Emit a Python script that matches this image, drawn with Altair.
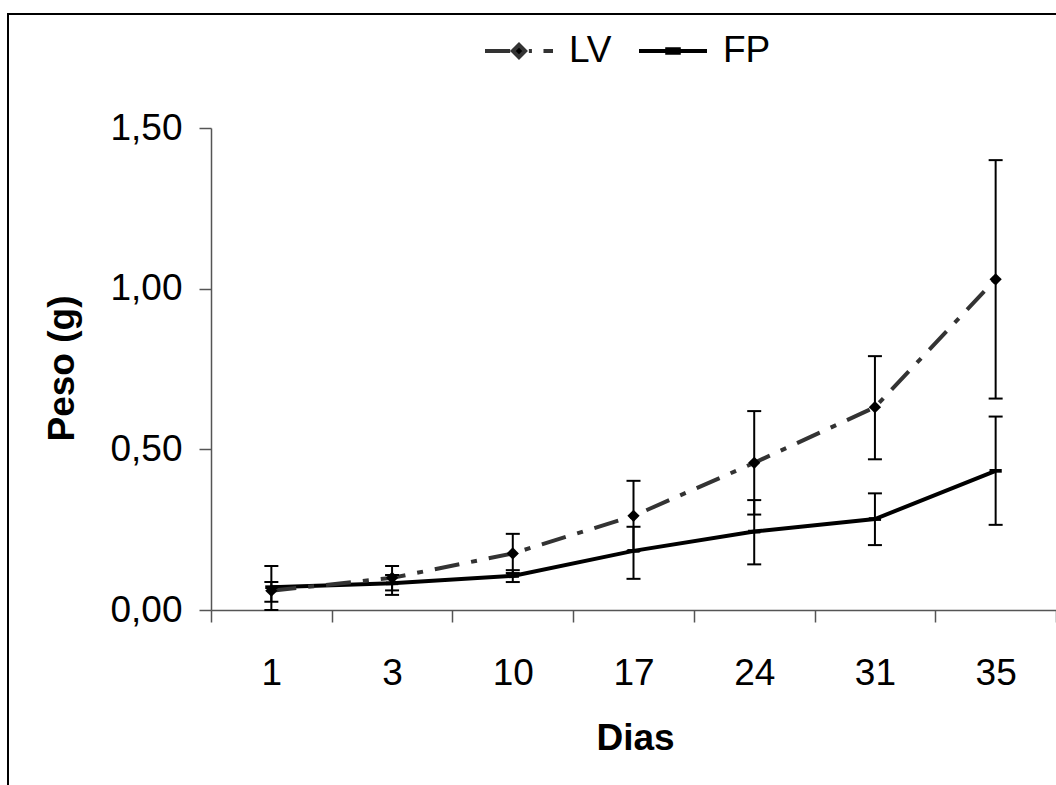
import altair as alt
import pandas as pd

days = ["1", "3", "10", "17", "24", "31", "35"]
series_names = ["LV", "FP"]

lv_mean = [0.06, 0.10, 0.176, 0.293, 0.458, 0.631, 1.029]
lv_low = [0.00, 0.061, 0.115, 0.184, 0.297, 0.469, 0.658]
lv_high = [0.137, 0.137, 0.237, 0.402, 0.619, 0.790, 1.400]

fp_mean = [0.071, 0.083, 0.106, 0.184, 0.244, 0.283, 0.433]
fp_low = [0.026, 0.047, 0.087, 0.097, 0.142, 0.202, 0.265]
fp_high = [0.087, 0.109, 0.124, 0.259, 0.342, 0.363, 0.602]

rows = []
for name, m, lo, hi in [("LV", lv_mean, lv_low, lv_high), ("FP", fp_mean, fp_low, fp_high)]:
    for d, a, b, c in zip(days, m, lo, hi):
        rows.append({"day": d, "series": name, "mean": a, "low": b, "high": c})
df = pd.DataFrame(rows)

FONT = "Liberation Sans"
AX = "#555555"

LV_PATH = "M-1,0H-0.26M0.29,0H0.38M0.72,0H1M-0.18,0L0,-0.18L0.18,0L0,0.18Z"
FP_PATH = "M-1,0H1M-0.17,-0.05H0.17V0.05H-0.17Z"
FP_MARK = "M-1,-0.3H1V0.3H-1Z"

x_scale = alt.Scale(type="band", domain=days, paddingInner=0, paddingOuter=0)
x_axis = alt.Axis(
    title="Dias",
    labelAngle=0,
    labelAlign="center",
    labelBaseline="top",
    tickBand="extent",
    labelFont=FONT, labelFontSize=37, labelColor="black", labelPadding=33,
    titleFont=FONT, titleFontSize=37, titleFontWeight="bold", titleColor="black",
    titleX=424, titleY=110, titleBaseline="top", titleAlign="center", titleAngle=0,
    domainColor=AX, domainWidth=1.5, tickColor=AX, tickWidth=1.5, tickSize=12,
    grid=False,
)
x_enc = alt.X("day:N", sort=days, scale=x_scale, axis=x_axis)

y_scale = alt.Scale(domain=[0, 1.5], nice=False, zero=True)
y_axis = alt.Axis(
    title="Peso (g)",
    values=[0, 0.5, 1.0, 1.5],
    labelExpr="replace(format(datum.value, '.2f'), '.', ',')",
    labelFont=FONT, labelFontSize=37, labelColor="black", labelPadding=17,
    titleFont=FONT, titleFontSize=37, titleFontWeight="bold", titleColor="black",
    titleX=-130, titleY=240, titleAngle=270, titleBaseline="bottom", titleAlign="center",
    domainColor=AX, domainWidth=1.5, tickColor=AX, tickWidth=1.5, tickSize=12,
    grid=False,
)
y_enc = alt.Y("mean:Q", scale=y_scale, axis=y_axis)

base = alt.Chart(df)
lv = base.transform_filter("datum.series == 'LV'")
fp = base.transform_filter("datum.series == 'FP'")

fp_line = fp.mark_line(color="black", strokeWidth=4).encode(x=x_enc, y=y_enc)
lv_line = lv.mark_line(
    color="#333333", strokeWidth=4, strokeDash=[25, 12, 6, 12]
).encode(x=x_enc, y=y_enc)

err_rule = base.mark_rule(color="black", strokeWidth=2).encode(
    x=x_enc, y=alt.Y("low:Q", scale=y_scale, axis=y_axis), y2="high:Q"
)
cap_low = base.mark_tick(color="black", thickness=2, size=14, opacity=1).encode(
    x=x_enc, y=alt.Y("low:Q", scale=y_scale, axis=y_axis)
)
cap_high = base.mark_tick(color="black", thickness=2, size=14, opacity=1).encode(
    x=x_enc, y=alt.Y("high:Q", scale=y_scale, axis=y_axis)
)

lv_points = lv.mark_point(
    filled=True, color="black", size=150, opacity=1, shape="diamond"
).encode(x=x_enc, y=y_enc)
fp_points = fp.mark_point(
    filled=True, color="black", size=150, opacity=1, shape=FP_MARK
).encode(x=x_enc, y=y_enc)

legend = alt.Legend(
    title=None,
    orient="none",
    legendX=272,
    legendY=-113,
    direction="horizontal",
    labelFont=FONT,
    labelFontSize=37,
    labelColor="black",
    labelOffset=14,
    columnPadding=19,
    symbolSize=4624,
    symbolStrokeWidth=4,
    symbolOpacity=1,
)

legend_layer = base.transform_filter("false").mark_point(
    filled=True, strokeWidth=4, size=4624, opacity=1
).encode(
    x=x_enc,
    y=y_enc,
    shape=alt.Shape(
        "series:N",
        scale=alt.Scale(domain=series_names, range=[LV_PATH, FP_PATH]),
        legend=legend,
    ),
    fill=alt.Fill(
        "series:N",
        scale=alt.Scale(domain=series_names, range=["black", "black"]),
        legend=legend,
    ),
    stroke=alt.Stroke(
        "series:N",
        scale=alt.Scale(domain=series_names, range=["#333333", "black"]),
        legend=legend,
    ),
)

frame_df = pd.DataFrame({"k": [0]})
frame_left = alt.Chart(frame_df).mark_rule(color="black", strokeWidth=2).encode(
    x=alt.value(-203), y=alt.value(-114), y2=alt.value(700)
)
frame_top = alt.Chart(frame_df).mark_rule(color="black", strokeWidth=2).encode(
    x=alt.value(-204), x2=alt.value(900), y=alt.value(-114)
)

chart = alt.layer(
    fp_line, lv_line, err_rule, cap_low, cap_high, lv_points, fp_points,
    legend_layer, frame_left, frame_top
).properties(
    width=845,
    height=482,
    autosize=alt.AutoSizeParams(type="none"),
    padding={"left": 211, "top": 128, "right": 0, "bottom": 175},
    background="white",
).configure_view(stroke=None)

chart.save("out.html", embed_options={"renderer": "svg", "actions": False})
